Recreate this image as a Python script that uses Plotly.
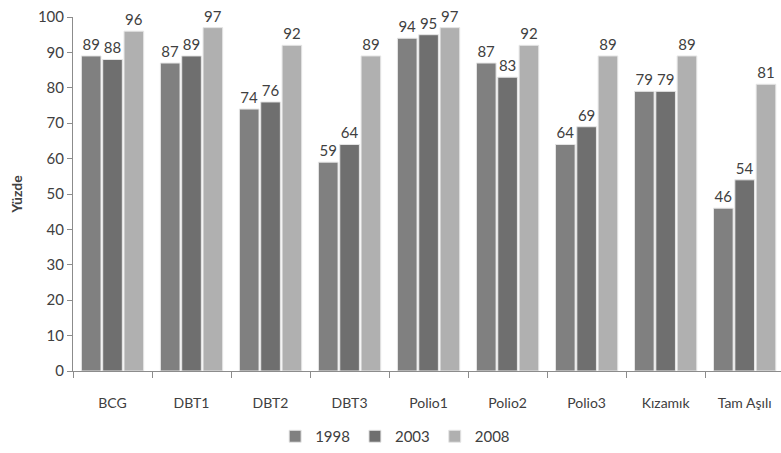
import plotly.graph_objects as go

# Vaccination coverage by vaccine type (percent)
categories = ["BCG", "DBT1", "DBT2", "DBT3", "Polio1", "Polio2", "Polio3", "Kızamık", "Tam Aşılı"]
v1998 = [89, 87, 74, 59, 94, 87, 64, 79, 46]
v2003 = [88, 89, 76, 64, 95, 83, 69, 79, 54]
v2008 = [96, 97, 92, 89, 97, 92, 89, 89, 81]
y_ticks = [0, 10, 20, 30, 40, 50, 60, 70, 80, 90, 100]

series = [("1998", v1998, "#808080"), ("2003", v2003, "#6f6f6f"), ("2008", v2008, "#b0b0b0")]

FONT = "Lato, 'Open Sans', sans-serif"
TXT = "#404040"

fig = go.Figure()
for name, vals, color in series:
    fig.add_trace(go.Bar(
        name=name, x=categories, y=vals,
        marker=dict(color=color, line=dict(color="#e6e6e6", width=1)),
        text=[str(v) for v in vals], textposition="outside",
        textfont=dict(size=15, color=TXT, family=FONT),
        constraintext="none", cliponaxis=False,
    ))

fig.update_layout(
    width=781, height=453,
    margin=dict(l=73, r=0, t=17, b=81),
    paper_bgcolor="white", plot_bgcolor="white",
    barmode="group", bargap=0.19, bargroupgap=0.08,
    font=dict(family=FONT, color=TXT),
    showlegend=True,
    legend=dict(orientation="h", x=0.455, xanchor="center", y=-0.186, yanchor="middle",
                font=dict(size=15, color=TXT, family=FONT), itemwidth=30,
                traceorder="normal"),
    xaxis=dict(
        range=[-0.5, 8.46], showgrid=False, showline=True, linecolor="#8c8c8c", linewidth=1,
        ticks="outside", tickson="boundaries", ticklen=6, tickcolor="#8c8c8c",
        ticklabelstandoff=19,
        tickfont=dict(size=14, color=TXT, family=FONT),
    ),
    yaxis=dict(
        range=[0, 100], tickvals=y_ticks, showgrid=False, zeroline=False,
        showline=True, linecolor="#8c8c8c", linewidth=1,
        ticks="outside", ticklen=5, tickcolor="#8c8c8c",
        tickfont=dict(size=15, color=TXT, family=FONT),
        title=dict(text="<b>Yüzde</b>", font=dict(size=14, color=TXT, family=FONT), standoff=11),
    ),
)

fig.write_html("out.html")
